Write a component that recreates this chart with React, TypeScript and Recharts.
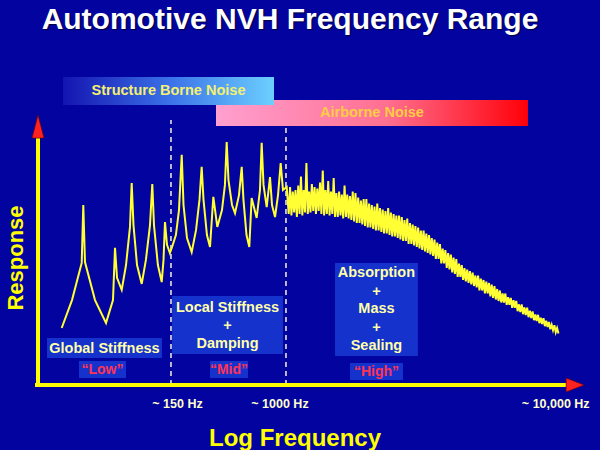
import React from 'react';
import { LineChart, Line, XAxis, YAxis, ReferenceLine, ReferenceArea, ReferenceDot } from 'recharts';

const FONT = '"Liberation Sans", Arial, Helvetica, sans-serif';

// Structure-borne part of the response curve (log-frequency position 0-100, response 0-105)
const lowFreqPos = [4.35, 6.24, 8.02, 8.31, 8.62, 10.46, 12.48, 13.76, 14.13, 14.5, 15.36, 16.15, 16.88, 17.19, 17.52, 18.17, 19.03, 19.8, 20.55, 20.97, 21.28, 22.0, 22.7, 23.03, 23.3, 23.67, 24.2, 24.6, 25.3, 25.87, 26.37, 26.7, 27.34, 28.2, 29.0, 29.63, 30.03, 30.37, 31.0, 31.56, 32.17, 32.9, 33.76, 34.3, 34.62, 34.95, 35.6, 36.15, 36.88, 37.38, 37.7, 38.26, 38.77, 39.2, 40.12, 40.73, 41.04, 41.38, 41.96, 42.57, 42.94, 43.49, 44.04, 44.53, 44.95, 45.63];
const lowResponse = [19.0, 28.3, 40.7, 60.0, 41.0, 28.3, 20.7, 28.3, 45.7, 35.7, 31.7, 40, 52.7, 67.3, 53.3, 40, 33.7, 41.7, 53.3, 67.0, 53.3, 40, 34.3, 41.7, 54.3, 46.7, 44, 46, 50, 58.3, 76.7, 60, 49, 44.3, 51.7, 61.7, 72.7, 61.7, 50, 46, 62.7, 52.7, 58.3, 66.7, 81.0, 68.3, 60, 57.3, 63.3, 72.7, 61.7, 50, 46, 62.3, 55.7, 65, 80.7, 66.7, 59.3, 69.3, 60, 56, 63.3, 74, 65, 66];

// Airborne (dense, noisy, decaying) part of the response curve
const highFreqPos = [
  46, 46.25, 46.5, 46.75, 47, 47.25, 47.5, 47.75, 48, 48.25, 48.5, 48.75, 49, 49.25, 49.5, 49.75,
  50, 50.25, 50.5, 50.75, 51, 51.25, 51.5, 51.75, 52, 52.25, 52.5, 52.75, 53, 53.25, 53.5, 53.75,
  54, 54.25, 54.5, 54.75, 55, 55.25, 55.5, 55.75, 56, 56.25, 56.5, 56.75, 57, 57.25, 57.5, 57.75,
  58, 58.25, 58.5, 58.75, 59, 59.25, 59.5, 59.75, 60, 60.25, 60.5, 60.75, 61, 61.25, 61.5, 61.75,
  62, 62.25, 62.5, 62.75, 63, 63.25, 63.5, 63.75, 64, 64.25, 64.5, 64.75, 65, 65.25, 65.5, 65.75,
  66, 66.25, 66.5, 66.75, 67, 67.25, 67.5, 67.75, 68, 68.25, 68.5, 68.75, 69, 69.25, 69.5, 69.75,
  70, 70.25, 70.5, 70.75, 71, 71.25, 71.5, 71.75, 72, 72.25, 72.5, 72.75, 73, 73.25, 73.5, 73.75,
  74, 74.25, 74.5, 74.75, 75, 75.25, 75.5, 75.75, 76, 76.25, 76.5, 76.75, 77, 77.25, 77.5, 77.75,
  78, 78.25, 78.5, 78.75, 79, 79.25, 79.5, 79.75, 80, 80.25, 80.5, 80.75, 81, 81.25, 81.5, 81.75,
  82, 82.25, 82.5, 82.75, 83, 83.25, 83.5, 83.75, 84, 84.25, 84.5, 84.75, 85, 85.25, 85.5, 85.75,
  86, 86.25, 86.5, 86.75, 87, 87.25, 87.5, 87.75, 88, 88.25, 88.5, 88.75, 89, 89.25, 89.5, 89.75,
  90, 90.25, 90.5, 90.75, 91, 91.25, 91.5, 91.75, 92, 92.25, 92.5, 92.75, 93, 93.25, 93.5, 93.75,
  94, 94.25, 94.5, 94.75, 95, 95.25, 95.5,
];
const highResponse = [
  57, 66, 56.5, 64.5, 57.5, 65, 56, 66.5, 57, 69.5, 56.5, 65, 57.5, 74, 57, 64.5,
  57.5, 67, 58, 66, 57, 65.5, 58, 67.5, 57, 71.5, 56.5, 65, 57, 68, 56.5, 64.5,
  57, 69, 56, 64, 56, 64.5, 56.5, 63.5, 55.5, 66.5, 56, 63.5, 55.5, 63, 55, 64.5,
  54.5, 64, 54, 62.5, 54, 61.5, 53.5, 62, 53, 62, 52.5, 60.5, 52.5, 60, 52, 59.5,
  51.5, 60.5, 51.5, 59, 51, 58.5, 50.5, 58, 50.5, 59, 50, 57.5, 49.5, 57, 49.5, 56.5,
  49, 56.5, 48.5, 56, 48, 55, 48, 55.5, 47, 54, 47, 53.5, 46.5, 53, 46, 52.5,
  45.5, 51.5, 45, 51.5, 44.5, 50.5, 44, 50, 43.5, 49, 43, 48.5, 42, 47.5, 42, 47,
  40.5, 45.5, 40.5, 45, 39, 44, 38.5, 43.5, 37.5, 42.5, 37, 42, 36, 40.5, 36, 40,
  35, 39, 34.5, 38.5, 34, 38, 33.5, 37.5, 33, 36.5, 32.5, 36.5, 31.5, 35.5, 31.5, 35,
  30.5, 34.5, 30.5, 34, 29.5, 33.5, 29, 33, 28.5, 32, 28, 31.5, 27.5, 30.5, 27.5, 30.5,
  26.7, 29.3, 26.7, 29, 25.7, 28.3, 25.7, 28, 24.6, 26.9, 24.3, 26.9, 23.6, 25.9, 23.3, 25.8,
  22.6, 24.8, 22.3, 24.5, 21.6, 23.5, 21.3, 23.4, 20.6, 22.4, 20.3, 22.3, 19.6, 21.4, 19.3, 21,
  18.6, 20.1, 18.3, 19.9, 17.6, 19, 17.2,
];

// Frequency ticks and region boundaries
const freqTicks = [25.6, 44.4, 95.0];
const freqLabels = ['~ 150 Hz', '~ 1000 Hz', '~ 10,000 Hz'];
const boundaryPos = [24.4, 45.5];
const boundaryTop = [88.3, 86.3];

const data = [
  ...lowFreqPos.map((p, i) => ({ pos: p, response: lowResponse[i] })),
  ...highFreqPos.map((p, i) => ({ pos: p, response: highResponse[i] })),
];

const BoxText = (props: any) => {
  const { viewBox, lines, offsets, fill, fontSize } = props;
  if (!viewBox) return null;
  const cx = viewBox.x + viewBox.width / 2;
  return (
    <g>
      {lines.map((t: string, i: number) => (
        <text key={i} x={cx} y={viewBox.y + offsets[i]} textAnchor="middle" fill={fill}
          fontSize={fontSize} fontWeight="bold" fontFamily={FONT}>{t}</text>
      ))}
    </g>
  );
};

const FreqTick = (props: any) => {
  const { x, y, payload } = props;
  const idx = freqTicks.indexOf(payload.value);
  return (
    <text x={x} y={y} dy={15} textAnchor="middle" fill="#ffffcc" fontSize={12.5}
      fontWeight="bold" fontFamily={FONT}>{freqLabels[idx] ?? ''}</text>
  );
};

const ResponseTitle = (props: any) => {
  const vb = props.viewBox;
  if (!vb) return null;
  const x = vb.x + 23;
  const y = vb.y + 188;
  return (
    <text x={x} y={y} transform={`rotate(-90 ${x} ${y})`} textAnchor="middle" fill="#ffff00"
      fontSize={22} fontWeight="bold" fontFamily={FONT}>Response</text>
  );
};

const FreqTitle = (props: any) => {
  const vb = props.viewBox;
  if (!vb) return null;
  return (
    <text x={vb.x + 257} y={vb.y + 61} textAnchor="middle" fill="#ffff00"
      fontSize={24} fontWeight="bold" fontFamily={FONT}>Log Frequency</text>
  );
};

const UpArrow = (props: any) => {
  const { cx, cy } = props;
  return <polygon points={`${cx - 6},${cy} ${cx},${cy - 23} ${cx + 6},${cy}`} fill="#ff2020" stroke="#600000" strokeWidth={0.6} />;
};

const RightArrow = (props: any) => {
  const { cx, cy } = props;
  return <polygon points={`${cx},${cy - 7} ${cx + 18},${cy} ${cx},${cy + 7}`} fill="#ff2020" stroke="#600000" strokeWidth={0.6} />;
};

const BOX = '#1532cc';
const TXT = '#ffffaa';
const RED = '#ff3355';

export default function App() {
  return (
    <div style={{ position: 'fixed', left: 0, top: 0, width: 600, height: 450, background: '#0303a0', overflow: 'hidden' }}>
      <div style={{ position: 'absolute', left: 0, top: 4, width: 580, textAlign: 'center', color: '#ffffff',
        fontFamily: FONT, fontWeight: 'bold', fontSize: 30, lineHeight: '30px', textShadow: '1px 1px 1px #000040' }}>
        Automotive NVH Frequency Range
      </div>
      <div style={{ position: 'absolute', left: 0, top: 0 }}>
        <LineChart width={600} height={450} data={data} margin={{ top: 70, right: 17, bottom: 25, left: 0 }}>
          <defs>
            <linearGradient id="sbn" x1="0" y1="0" x2="1" y2="0">
              <stop offset="0%" stopColor="#1414b0" />
              <stop offset="50%" stopColor="#3a70e8" />
              <stop offset="100%" stopColor="#6cd0ff" />
            </linearGradient>
            <linearGradient id="abn" x1="0" y1="0" x2="1" y2="0">
              <stop offset="0%" stopColor="#ffa0d0" />
              <stop offset="55%" stopColor="#ff6f90" />
              <stop offset="100%" stopColor="#ff0008" />
            </linearGradient>
          </defs>
          <XAxis dataKey="pos" type="number" domain={[0, 100]} ticks={freqTicks} interval={0}
            axisLine={false} tickLine={false} tick={<FreqTick />} height={40} allowDataOverflow
            label={<FreqTitle />} />
          <YAxis type="number" domain={[0, 105]} width={38} axisLine={false} tickLine={false} tick={false}
            label={<ResponseTitle />} />

          <ReferenceArea x1={32.66} x2={89.9} y1={86.3} y2={95} fill="url(#abn)" fillOpacity={1} stroke="none"
            label={<BoxText lines={['Airborne Noise']} offsets={[17]} fill="#ffcc44" fontSize={14.5} />} />
          <ReferenceArea x1={4.59} x2={43.3} y1={93.3} y2={102.7} fill="url(#sbn)" fillOpacity={1} stroke="none"
            label={<BoxText lines={['Structure Borne Noise']} offsets={[18]} fill="#f4f070" fontSize={14.5} />} />

          <ReferenceArea x1={1.65} x2={22.75} y1={9.0} y2={15.67} fill={BOX} fillOpacity={1} stroke="none"
            label={<BoxText lines={['Global Stiffness']} offsets={[15]} fill={TXT} fontSize={14.5} />} />
          <ReferenceArea x1={7.52} x2={16.15} y1={2.33} y2={8.0} fill={BOX} fillOpacity={1} stroke="none"
            label={<BoxText lines={['\u201cLow\u201d']} offsets={[13]} fill={RED} fontSize={14} />} />
          <ReferenceArea x1={24.6} x2={44.95} y1={10.33} y2={29.67} fill={BOX} fillOpacity={1} stroke="none"
            label={<BoxText lines={['Local Stiffness', '+', 'Damping']} offsets={[16, 34, 52]} fill={TXT} fontSize={14.5} />} />
          <ReferenceArea x1={31.56} x2={38.53} y1={2.33} y2={8.0} fill={BOX} fillOpacity={1} stroke="none"
            label={<BoxText lines={['\u201cMid\u201d']} offsets={[13]} fill={RED} fontSize={14} />} />
          <ReferenceArea x1={54.5} x2={69.7} y1={9.67} y2={40.67} fill={BOX} fillOpacity={1} stroke="none"
            label={<BoxText lines={['Absorption', '+', 'Mass', '+', 'Sealing']} offsets={[14, 33, 50, 69, 87]} fill={TXT} fontSize={14.5} />} />
          <ReferenceArea x1={57.25} x2={66.97} y1={1.67} y2={7.33} fill={BOX} fillOpacity={1} stroke="none"
            label={<BoxText lines={['\u201cHigh\u201d']} offsets={[13]} fill={RED} fontSize={14} />} />

          {boundaryPos.map((p, i) => (
            <ReferenceLine key={i} segment={[{ x: p, y: 0 }, { x: p, y: boundaryTop[i] }]}
              stroke="#f4f4dd" strokeWidth={1.5} strokeDasharray="5 4" ifOverflow="visible" />
          ))}

          <Line type="linear" dataKey="response" stroke="#ffff33" strokeWidth={2} dot={false}
            isAnimationActive={false} />

          <ReferenceLine segment={[{ x: 0, y: -0.6 }, { x: 0, y: 82.3 }]} stroke="#ffff00" strokeWidth={4} ifOverflow="visible" />
          <ReferenceLine segment={[{ x: -0.55, y: 0 }, { x: 96.9, y: 0 }]} stroke="#ffff00" strokeWidth={4} ifOverflow="visible" />
          <ReferenceDot x={0} y={82.3} r={6} shape={<UpArrow />} ifOverflow="visible" />
          <ReferenceDot x={96.9} y={0} r={6} shape={<RightArrow />} ifOverflow="visible" />
        </LineChart>
      </div>
    </div>
  );
}
